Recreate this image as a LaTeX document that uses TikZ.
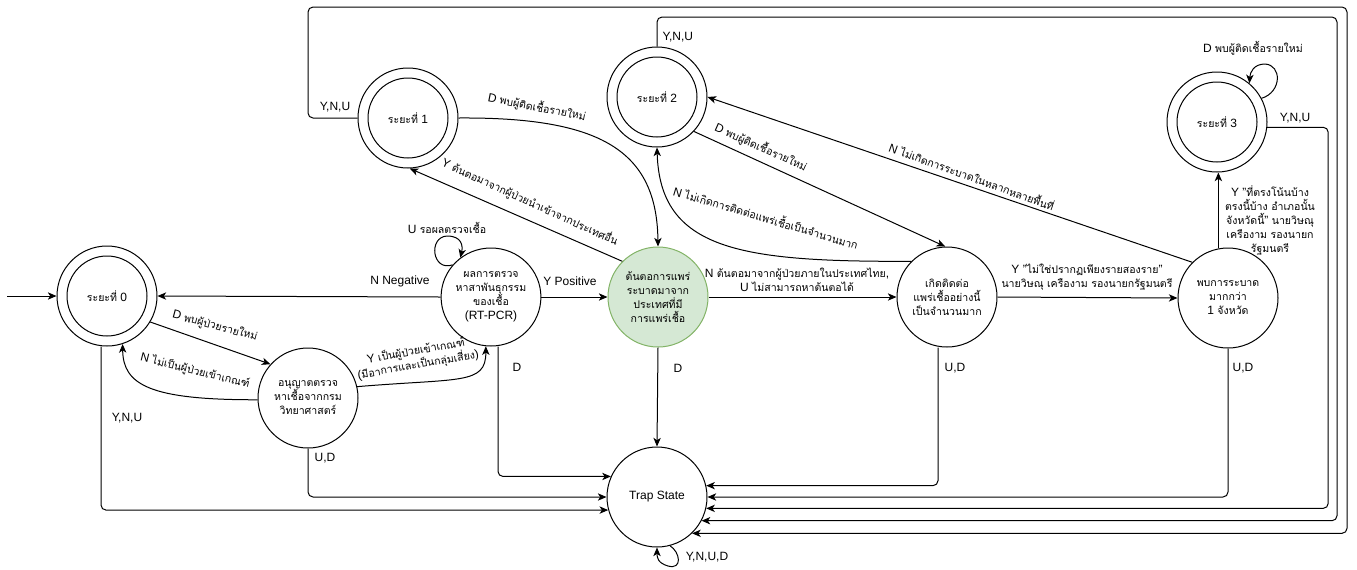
\documentclass[tikz,border=0pt]{standalone}
\usepackage{fontspec}
\setmainfont{Liberation Sans}
\newfontfamily\thaifamily{Loma}[Script=Thai,Scale=0.88]
\newcommand\thai[1]{{\thaifamily #1}}
\usetikzlibrary{arrows.meta,shapes.geometric}
\definecolor{srcfill}{HTML}{D5E8D4}
\definecolor{srcline}{HTML}{82B366}
\begin{document}
\begin{tikzpicture}[x=0.75pt,y=-0.75pt,
  every node/.style={font=\fontsize{9pt}{10.5pt}\selectfont, align=center, inner sep=1pt},
  stnode/.style={circle,draw,line width=0.75pt,minimum size=75pt,inner sep=0pt},
  acc/.style={stnode,path picture={\draw[line width=0.75pt] (path picture bounding box.center) circle (30pt);}},
  conn/.style={line width=0.75pt,-{Stealth[length=6.5pt,width=5.5pt,inset=1.8pt]}},
  elbow/.style={conn,rounded corners=3.75pt}]
\useasboundingbox (0,0) rectangle (1357,569);

% states
\node[acc] (s0) at (107,296) {\thai{ระยะที่} 0};
\node[acc] (s1) at (408,118) {\thai{ระยะที่} 1};
\node[acc] (s2) at (657,97) {\thai{ระยะที่} 2};
\node[acc] (s3) at (1217,122) {\thai{ระยะที่} 3};
\node[stnode,ellipse,minimum width=67.5pt,minimum height=73.5pt] (rt) at (491,297)
  {\thai{ผลการตรวจ}\\\thai{หาสาพันธุกรรม}\\\thai{ของเชื้อ}\\(RT-PCR)};
\node[stnode,fill=srcfill,draw=srcline] (src) at (658,297)
  {\thai{ต้นตอการแพร่}\\\thai{ระบาดมาจาก}\\\thai{ประเทศที่มี}\\\thai{การแพร่เชื้อ}};
\node[stnode] (lab) at (308,398) {\thai{อนุญาตตรวจ}\\\thai{หาเชื้อจากกรม}\\\thai{วิทยาศาสตร์}};
\node[stnode] (clu) at (947,297) {\thai{เกิดติดต่อ}\\\thai{แพร่เชื้ออย่างนี้}\\\thai{เป็นจำนวนมาก}};
\node[stnode] (spr) at (1228,298) {\thai{พบการระบาด}\\\thai{มากกว่า}\\1 \thai{จังหวัด}};
\node[stnode] (trap) at (657,497) {Trap State};

% start arrow
\coordinate (init) at (7,296);
\draw[conn] (init) -- (s0.west);

% transitions
\draw[conn] (s0.-31) -- (lab.138);
\draw[conn] (lab.182) .. controls (150,400) and (123,385) .. (s0.-72);
\draw[conn] (lab.13) .. controls (460,378) and (486,385) .. (rt.-96);
\draw[conn] (rt.140) .. controls (432,272) and (428,237) .. (447,236) .. controls (462,236) and (463,246) .. (rt.128);
\draw[conn] (rt.west) -- (s0.east);
\draw[conn] (rt.east) -- (src.west);
\draw[conn] (src.135) -- (s1.-88);
\draw[conn] (s1.east) .. controls (600,117) and (657,150) .. (src.north);
\draw[conn] (clu.135) .. controls (740,262) and (660,250) .. (s2.south);
\draw[conn] (s2.-43) -- (clu.92);
\draw[conn] (spr.135) -- (s2.east);
\draw[conn] (src.east) -- (clu.west);
\draw[conn] (clu.east) -- (spr.west);
\draw[conn] (spr.101.5) -- (spr.101.5 |- s3.south);
\draw[conn] (s3.28) .. controls (1282,92) and (1282,65) .. (1265,64) .. controls (1254,64) and (1250,72) .. (s3.50);
\draw[conn] (trap.-75) .. controls (680,552) and (683,570) .. (668,566) .. controls (658,563) and (657,558) .. (trap.-90);

% transitions into the trap state
\draw[conn] (src.south) -- (trap.north);
\draw[elbow] (rt.south -| 498,0) |- (trap.156.4);
\draw[elbow] (lab.south) |- (trap.west);
\draw[elbow] (s0.south -| 101,0) |- (trap.195);
\draw[elbow] (clu.south -| 938,0) |- (trap.13.9);
\draw[elbow] (spr.south) |- (trap.east);
\draw[elbow] (s3.-6) -- ++(61,0) |- (trap.-13.9);
\draw[elbow] (s2.north) |- (1337,17) |- (trap.-28.7);
\draw[elbow] (s1.west) -| (308,7) -- (1347,7) |- (trap.-46);

% labels
\node (l1) at (215,326) [rotate=-15] {D \thai{พบผู้ป่วยรายใหม่}};
\node (l2) at (195,371) [rotate=-14] {N \thai{ไม่เป็นผู้ป่วยเข้าเกณฑ์}};
\node (l3) at (417,358) [rotate=10] {Y \thai{เป็นผู้ป่วยเข้าเกณฑ์}\\(\thai{มีอาการและเป็นกลุ่มเสี่ยง})};
\node (l4) at (447,228) {U \thai{รอผลตรวจเชื้อ}};
\node (l5) at (400,281) {N Negative};
\node (l6) at (570,281) {Y Positive};
\node (l7) at (530,202) [rotate=-24.5] {Y \thai{ต้นตอมาจากผู้ป่วยนำเข้าจากประเทศอื่น}};
\node (l8) at (537,107) [rotate=-11] {D \thai{พบผู้ติดเชื้อรายใหม่}};
\node (l9) at (766,217) [rotate=-16.5] {N \thai{ไม่เกิดการติดต่อแพร่เชื้อเป็นจำนวนมาก}};
\node (l10) at (761,147) [rotate=-24] {D \thai{พบผู้ติดเชื้อรายใหม่}};
\node (l11) at (972,176) [rotate=-20] {N \thai{ไม่เกิดการระบาดในหลากหลายพื้นที่}};
\node (l12) at (797,280) {N \thai{ต้นตอมาจากผู้ป่วยภายในประเทศไทย},\\U \thai{ไม่สามารถหาต้นตอได้}};
\node (l13) at (1087,277) {Y "\thai{ไม่ใช่ปรากฏเพียงรายสองราย}"\\\thai{นายวิษณุ เครืองาม รองนายกรัฐมนตรี}};
\node (l14) at (1270,220) {Y "\thai{ที่ตรงโน้นบ้าง}\\\thai{ตรงนี้บ้าง อำเภอนั้น}\\\thai{จังหวัดนี้}" \thai{นายวิษณุ}\\\thai{เครืองาม รองนายก}\\\thai{รัฐมนตรี}};
\node (l15) at (1253,48) {D \thai{พบผู้ติดเชื้อรายใหม่}};
\node (l16) at (335,107) {Y,N,U};
\node[anchor=west] (l17) at (661,37) {Y,N,U};
\node (l18) at (1295,118) {Y,N,U};
\node (l19) at (127,418) {Y,N,U};
\node (l20) at (325,458) {U,D};
\node (l21) at (517,367) {D};
\node (l22) at (678,368) {D};
\node (l23) at (955,368) {U,D};
\node (l24) at (1243,368) {U,D};
\node (l25) at (707,557) {Y,N,U,D};
\end{tikzpicture}
\end{document}
